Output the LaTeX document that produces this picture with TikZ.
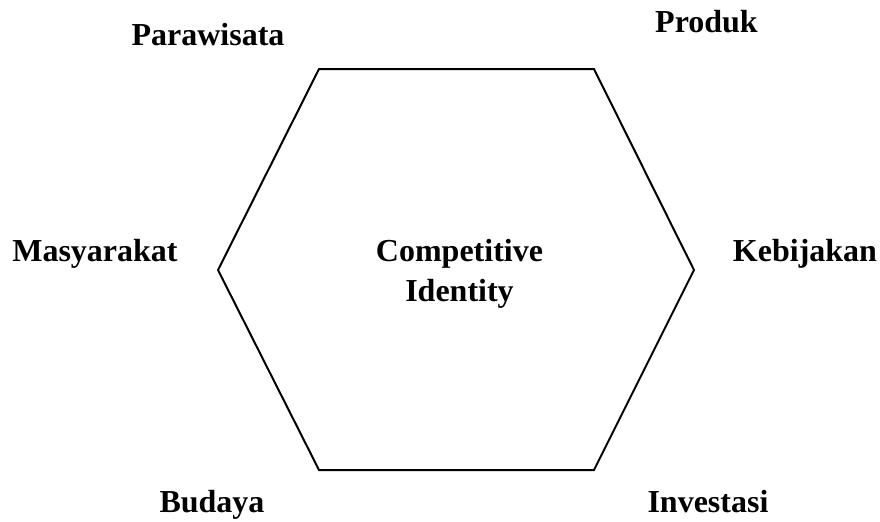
\documentclass[tikz,border=0pt]{standalone}
\usepackage{fontspec}
\setmainfont{Liberation Serif}
\usepackage{tikz}

\begin{document}
\begin{tikzpicture}[x=0.5pt, y=-0.5pt,
		lbl/.style={font=\fontsize{16}{19}\selectfont\bfseries, anchor=base, inner sep=0pt}]
			\useasboundingbox (0,0) rectangle (880,521);
			\def\hl{319}
			\def\hr{594}
			% hexagon corners
			\coordinate (tl) at (\hl, 69);
			\coordinate (tr) at (\hr, 69);
			\coordinate (rr) at (694, 270);
			\coordinate (br) at (\hr, 470);
			\coordinate (bl) at (\hl, 470);
			\coordinate (ll) at (218, 270);
			\draw[black, line width=1pt, line join=miter] (tl) -- (tr) -- (rr) -- (br) -- (bl) -- (ll) -- cycle;

			% centre
			\node[lbl] (comp) at (459.5, 261) {Competitive};
			\node[lbl] (ident) at (459.5, 301) {Identity};

			% labels round the hexagon
			\node[lbl] (parawisata) at (208, 45) {Parawisata};
			\node[lbl] (produk) at (706.5, 32) {Produk};
			\node[lbl] (masyarakat) at (95, 261) {Masyarakat};
			\node[lbl] (kebijakan) at (805, 261) {Kebijakan};
			\node[lbl] (budaya) at (212, 512) {Budaya};
			\node[lbl] (investasi) at (708, 512) {Investasi};
		\end{tikzpicture}
\end{document}
